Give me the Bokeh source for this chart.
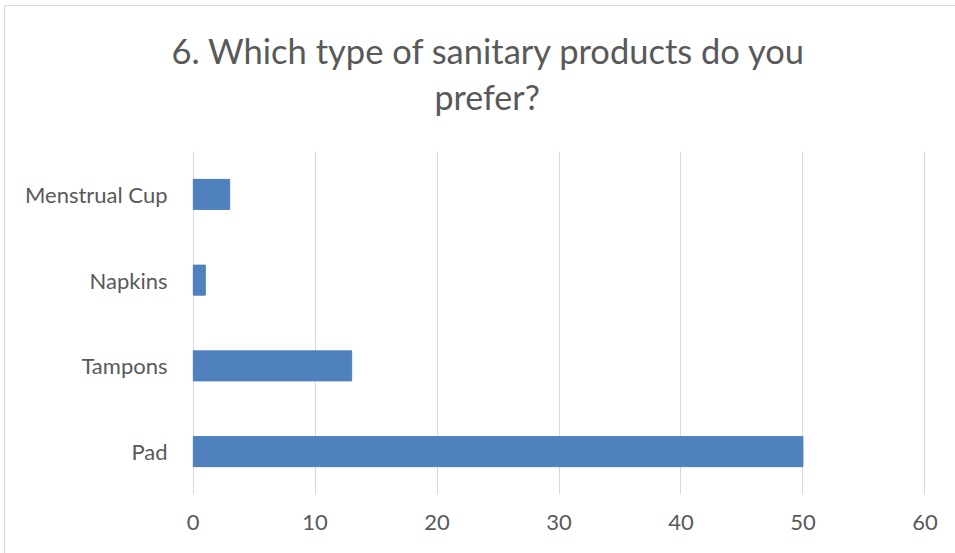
from bokeh.plotting import figure
from bokeh.models import Title, FactorRange, Range1d, SingleIntervalTicker
from bokeh.embed import file_html
from bokeh.resources import INLINE

categories = ["Pad", "Tampons", "Napkins", "Menstrual Cup"]
counts = [50, 13, 1, 3]
title_lines = ["6. Which type of sanitary products do you", "prefer?"]

FONT = "Lato"
GRAY = "#595959"

p = figure(width=960, height=560, output_backend="svg", toolbar_location=None,
           y_range=FactorRange(factors=categories, range_padding=0),
           x_range=Range1d(-0.05, 60.05),
           min_border_left=187, min_border_right=40, min_border_top=145, min_border_bottom=72)
p.margin = (5, 0, 0, 4)
p.styles = {"border-left": "1px solid #d9d9d9", "border-top": "1px solid #d9d9d9"}

p.hbar(y=categories, right=counts, left=0, height=0.35, color="#4f81bd")

p.outline_line_color = None
p.ygrid.grid_line_color = None
p.xgrid.grid_line_color = "#d9d9d9"
p.xgrid.grid_line_width = 1
p.xaxis.ticker = SingleIntervalTicker(interval=10)
for ax in (p.xaxis[0], p.yaxis[0]):
    ax.axis_line_color = None
    ax.major_tick_line_color = None
    ax.minor_tick_line_color = None
    ax.major_label_text_font = FONT
    ax.major_label_text_color = GRAY
    ax.major_label_text_font_size = "22px"
p.xaxis.major_label_standoff = 14
p.yaxis.major_label_standoff = 19

# spacer between the title block and the plot area (white on white)
p.add_layout(Title(text=".", standoff=30, text_font_size="1px", text_color="white"), "above")
p.add_layout(Title(text=title_lines[1], align="left", offset=242, standoff=4,
                   text_font=FONT, text_font_size="34px", text_color=GRAY,
                   text_font_style="normal"), "above")
p.add_layout(Title(text=title_lines[0], align="left", offset=-21, standoff=2,
                   text_font=FONT, text_font_size="34.5px", text_color=GRAY,
                   text_font_style="normal"), "above")

open("out.html", "w").write(file_html(p, INLINE))
